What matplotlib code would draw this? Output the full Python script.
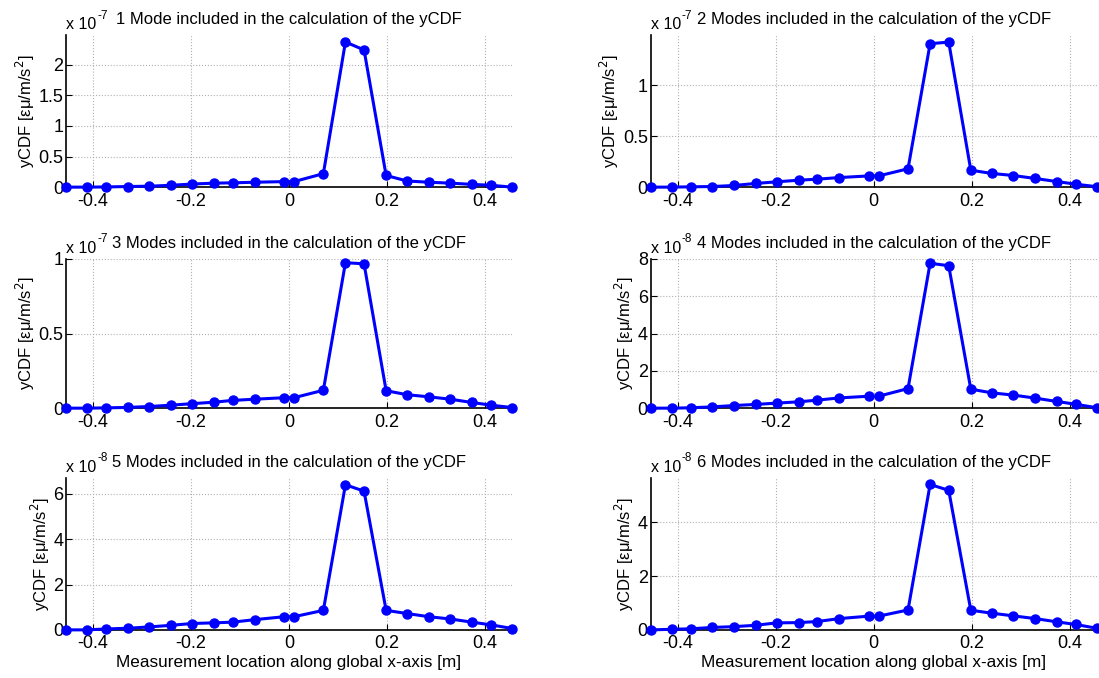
import numpy as np
import matplotlib
matplotlib.use("Agg")
import matplotlib.pyplot as plt
from matplotlib.ticker import FuncFormatter

plt.rcParams['font.family'] = ['Liberation Sans', 'DejaVu Sans']
plt.rcParams['axes.unicode_minus'] = False

# measurement locations (m), symmetric about 0
x_pos = [-0.455, -0.412, -0.373, -0.329, -0.285, -0.241, -0.198, -0.153, -0.115, -0.070, -0.010,
         0.010, 0.070, 0.115, 0.153, 0.198, 0.241, 0.285, 0.329, 0.373, 0.412, 0.455]

# yCDF values, in units of 10^exp for each panel
ycdf_1 = [0, 0, 0.003, 0.01, 0.015, 0.03, 0.05, 0.065, 0.07, 0.08, 0.09,
          0.09, 0.22, 2.37, 2.24, 0.19, 0.10, 0.08, 0.065, 0.045, 0.03, 0.0]
ycdf_2 = [0, 0, 0.003, 0.006, 0.016, 0.036, 0.052, 0.068, 0.078, 0.094, 0.11,
          0.11, 0.18, 1.407, 1.423, 0.166, 0.134, 0.114, 0.085, 0.055, 0.029, 0.004]
ycdf_3 = [0, 0, 0.002, 0.005, 0.011, 0.02, 0.03, 0.04, 0.052, 0.06, 0.07,
          0.07, 0.12, 0.975, 0.968, 0.117, 0.09, 0.076, 0.06, 0.038, 0.02, 0.004]
ycdf_4 = [0, 0, 0.02, 0.07, 0.14, 0.2, 0.27, 0.34, 0.43, 0.55, 0.64,
          0.64, 1.05, 7.77, 7.64, 1.02, 0.82, 0.70, 0.54, 0.36, 0.21, 0.02]
ycdf_5 = [0, 0, 0.04, 0.07, 0.13, 0.2, 0.28, 0.31, 0.34, 0.45, 0.58,
          0.58, 0.86, 6.4, 6.12, 0.86, 0.72, 0.58, 0.48, 0.34, 0.22, 0.06]
ycdf_6 = [0, 0.02, 0.04, 0.09, 0.12, 0.17, 0.26, 0.27, 0.31, 0.42, 0.51,
          0.51, 0.74, 5.41, 5.19, 0.73, 0.62, 0.52, 0.42, 0.30, 0.20, 0.06]

series = [ycdf_1, ycdf_2, ycdf_3, ycdf_4, ycdf_5, ycdf_6]
exponents = ["-7", "-7", "-7", "-8", "-8", "-8"]
titles = ["1 Mode included in the calculation of the yCDF",
          "2 Modes included in the calculation of the yCDF",
          "3 Modes included in the calculation of the yCDF",
          "4 Modes included in the calculation of the yCDF",
          "5 Modes included in the calculation of the yCDF",
          "6 Modes included in the calculation of the yCDF"]
y_ticks = [[0, 0.5, 1, 1.5, 2], [0, 0.5, 1], [0, 0.5, 1],
           [0, 2, 4, 6, 8], [0, 2, 4, 6], [0, 2, 4]]
y_tops = [2.48, 1.49, 1.0, 8.0, 6.7, 5.65]
x_ticks = [-0.4, -0.2, 0, 0.2, 0.4]

fig = plt.figure(figsize=(10.99, 6.78), dpi=100)

lefts = [0.060, 0.592]
width = 0.406
bottoms = [0.724, 0.398, 0.071]
heights = [0.224, 0.220, 0.224]

fmt = FuncFormatter(lambda v, p: "%g" % v)

for i in range(6):
    row, col = i // 2, i % 2
    ax = fig.add_axes([lefts[col], bottoms[row], width, heights[row]])
    ax.plot(x_pos, series[i], color='#0000ff', lw=2.2, marker='o', ms=6.5, clip_on=False, zorder=3)
    ax.set_xlim(min(x_pos), max(x_pos))
    ax.set_ylim(0, y_tops[i])
    ax.set_xticks(x_ticks)
    ax.set_yticks(y_ticks[i])
    ax.xaxis.set_major_formatter(fmt)
    ax.yaxis.set_major_formatter(fmt)
    ax.grid(True, color='#b0b0b0', linestyle=':', linewidth=0.8)
    ax.spines['top'].set_visible(False)
    ax.spines['right'].set_visible(False)
    ax.spines['left'].set_linewidth(1.2)
    ax.spines['bottom'].set_linewidth(1.2)
    ax.tick_params(direction='in', length=4, labelsize=13, pad=2)
    ax.tick_params(axis='x', pad=4)
    ax.set_title(titles[i], fontsize=12, pad=8)
    # MATLAB-style exponent label above the y axis
    base = ax.annotate("x 10", xy=(0, 1), xycoords='axes fraction', xytext=(0, 6),
                       textcoords='offset pixels', fontsize=11.5, ha='left', va='baseline')
    ax.annotate(exponents[i], xy=(1, 0.7), xycoords=base, xytext=(1, 0),
                textcoords='offset pixels', fontsize=8.5, ha='left', va='bottom')
    ax.set_ylabel(r"yCDF [εμ/m/s$^2$]", fontsize=12, labelpad=1)
    if row == 2:
        ax.set_xlabel("Measurement location along global x-axis [m]", fontsize=12.3, labelpad=2)

fig.savefig("out.png", dpi=100)
